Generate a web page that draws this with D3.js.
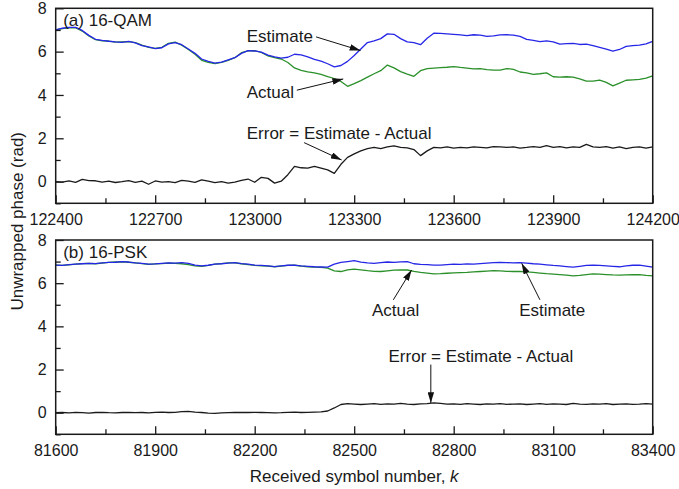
<!DOCTYPE html>
<html>
<head>
<meta charset="utf-8">
<script src="https://cdn.jsdelivr.net/npm/d3@7"></script>
<style>
  html, body { margin: 0; padding: 0; background: #fff; }
  svg { display: block; }
  text { font-family: "Liberation Sans", Arial, Helvetica, sans-serif; fill: #1a1a1a; }
</style>
</head>
<body>
<div id="chart"></div>
<script>
// ---- data -------------------------------------------------------------
// (a) 16-QAM, symbols 122400..124200 sampled every 20 symbols
const qamK = d3.range(122400, 124201, 20);
const qamEstimate = [
  7.00,7.08,7.12,7.12,6.98,6.75,6.57,6.52,6.48,6.45,6.43,6.47,6.40,6.28,6.22,6.14,6.18,6.36,6.42,6.32,
  6.12,5.92,5.66,5.55,5.47,5.52,5.62,5.72,5.92,6.05,6.03,5.98,5.84,5.76,5.70,5.74,5.88,5.85,5.76,5.64,
  5.56,5.44,5.30,5.36,5.55,5.82,6.12,6.42,6.50,6.60,6.82,6.80,6.60,6.45,6.42,6.32,6.62,6.85,6.84,6.82,
  6.80,6.77,6.74,6.78,6.76,6.70,6.73,6.77,6.78,6.76,6.70,6.57,6.52,6.46,6.50,6.45,6.35,6.37,6.38,6.33,
  6.35,6.28,6.20,6.12,6.02,6.10,6.24,6.28,6.30,6.36,6.47
];
const qamActual = [
  7.00,7.06,7.10,7.11,6.95,6.72,6.55,6.50,6.49,6.44,6.45,6.46,6.42,6.30,6.20,6.15,6.20,6.38,6.44,6.30,
  6.10,5.88,5.60,5.50,5.45,5.50,5.60,5.72,5.95,6.04,6.05,5.96,5.80,5.72,5.66,5.50,5.25,5.14,5.07,5.02,
  4.95,4.85,4.76,4.62,4.40,4.52,4.66,4.82,4.98,5.12,5.38,5.25,5.08,4.96,4.86,5.12,5.22,5.24,5.26,5.28,
  5.31,5.27,5.24,5.20,5.22,5.17,5.15,5.15,5.22,5.18,5.06,5.02,4.95,4.98,5.02,4.84,4.82,4.84,4.82,4.74,
  4.64,4.64,4.69,4.58,4.42,4.55,4.68,4.70,4.72,4.78,4.88
];
const qamError = [
  0.00,-0.02,0.03,-0.03,0.10,0.05,0.04,-0.02,0.02,-0.04,0.00,0.05,-0.03,0.02,-0.12,0.03,-0.02,0.00,-0.05,0.06,
  0.02,-0.03,0.08,0.02,-0.05,0.00,-0.07,-0.02,0.06,0.12,-0.03,0.20,0.15,-0.07,0.02,0.32,0.70,0.64,0.62,0.70,
  0.62,0.54,0.38,0.80,1.12,1.28,1.42,1.52,1.58,1.52,1.60,1.65,1.58,1.56,1.48,1.20,1.42,1.58,1.56,1.60,
  1.55,1.58,1.56,1.60,1.58,1.56,1.62,1.60,1.58,1.60,1.55,1.58,1.62,1.58,1.66,1.58,1.62,1.56,1.60,1.58,
  1.72,1.60,1.58,1.62,1.55,1.60,1.52,1.58,1.60,1.55,1.60
];
const qamTicks = [122400, 122700, 123000, 123300, 123600, 123900, 124200];

// (b) 16-PSK, symbols 81600..83400 sampled every 20 symbols
const pskK = d3.range(81600, 83401, 20);
const pskEstimate = [
  6.84,6.82,6.86,6.88,6.90,6.92,6.91,6.94,6.96,6.97,7.00,6.98,6.94,6.92,6.88,6.89,6.92,6.94,6.93,6.95,
  6.92,6.84,6.80,6.83,6.88,6.90,6.93,6.95,6.91,6.88,6.84,6.82,6.80,6.77,6.80,6.83,6.84,6.80,6.78,6.76,
  6.75,6.74,6.88,6.96,7.00,7.04,6.98,6.94,6.92,6.95,6.98,6.96,6.99,7.00,6.90,6.87,6.86,6.84,6.84,6.86,
  6.88,6.87,6.89,6.88,6.91,6.93,6.95,6.96,6.95,6.94,6.95,6.93,6.90,6.88,6.85,6.82,6.80,6.77,6.74,6.78,
  6.82,6.84,6.82,6.80,6.78,6.76,6.80,6.83,6.84,6.79,6.74
];
const pskActual = [
  6.84,6.82,6.85,6.88,6.91,6.92,6.90,6.93,6.96,6.98,6.99,6.97,6.94,6.91,6.87,6.89,6.91,6.93,6.92,6.90,
  6.86,6.80,6.78,6.82,6.88,6.91,6.94,6.94,6.90,6.86,6.82,6.80,6.79,6.76,6.79,6.82,6.83,6.79,6.76,6.74,
  6.73,6.70,6.57,6.54,6.62,6.65,6.62,6.58,6.55,6.54,6.57,6.60,6.62,6.61,6.55,6.50,6.47,6.43,6.44,6.46,
  6.48,6.49,6.50,6.52,6.54,6.56,6.58,6.57,6.55,6.54,6.54,6.52,6.50,6.47,6.44,6.42,6.40,6.37,6.34,6.36,
  6.40,6.43,6.42,6.40,6.38,6.37,6.38,6.39,6.40,6.36,6.34
];
const pskError = [
  0.00,0.01,-0.01,0.02,0.00,-0.02,0.01,0.02,0.00,-0.01,0.01,0.02,0.00,0.01,-0.01,0.02,0.03,0.01,0.02,0.05,
  0.06,0.03,0.01,-0.02,-0.03,-0.01,0.00,0.01,0.02,0.01,0.02,0.01,0.00,-0.01,0.00,0.02,0.03,0.01,0.02,0.03,
  0.04,0.08,0.22,0.38,0.42,0.40,0.38,0.40,0.42,0.39,0.41,0.40,0.43,0.40,0.38,0.41,0.42,0.46,0.43,0.40,
  0.41,0.39,0.42,0.40,0.38,0.41,0.40,0.42,0.39,0.40,0.41,0.38,0.40,0.42,0.39,0.41,0.40,0.38,0.43,0.40,
  0.39,0.41,0.40,0.42,0.38,0.40,0.41,0.39,0.40,0.42,0.40
];
const pskTicks = [81600, 81900, 82200, 82500, 82800, 83100, 83400];

const phaseTicks = [0, 2, 4, 6, 8];
const phaseMinor = [-1, 1, 3, 5, 7];

// ---- layout -----------------------------------------------------------
const W = 679, H = 489;
const left = 55.7, right = 652.7;
const FONT_TICK = 16, FONT_LABEL = 17;
const COLORS = { estimate: "#2626e6", actual: "#2a902a", error: "#1a1a1a" };

const svg = d3.select("#chart").append("svg")
  .attr("width", W).attr("height", H).attr("viewBox", `0 0 ${W} ${H}`);

svg.append("defs").append("marker")
  .attr("id", "arrowhead")
  .attr("viewBox", "0 0 10 6")
  .attr("refX", 10).attr("refY", 3)
  .attr("markerWidth", 11).attr("markerHeight", 6.5)
  .attr("markerUnits", "userSpaceOnUse")
  .attr("orient", "auto")
  .append("path").attr("d", "M0,0L10,3L0,6Z").attr("fill", "#111");

const panels = [
  {
    title: "(a) 16-QAM", top: 8.3, bottom: 203.3,
    k: qamK, estimate: qamEstimate, actual: qamActual, error: qamError,
    ticks: qamTicks,
    notes: [
      { text: "Estimate", at: [122976, 6.72], anchor: "start", from: [123185, 6.68], to: [123319, 6.05] },
      { text: "Actual", at: [122976, 4.15], anchor: "start", from: [123127, 4.22], to: [123267, 4.74] },
      { text: "Error = Estimate - Actual", at: [122976, 2.25], anchor: "start", from: [123149, 1.80], to: [123262, 1.00] }
    ]
  },
  {
    title: "(b) 16-PSK", top: 240, bottom: 434.3,
    k: pskK, estimate: pskEstimate, actual: pskActual, error: pskError,
    ticks: pskTicks,
    notes: [
      { text: "Actual", at: [82625, 4.77], anchor: "middle", from: [82618, 5.23], to: [82673, 6.61] },
      { text: "Estimate", at: [83097, 4.77], anchor: "middle", from: [83060, 5.23], to: [83005, 6.92] },
      { text: "Error = Estimate - Actual", at: [82882, 2.61], anchor: "middle", from: [82731, 2.23], to: [82731, 0.45] }
    ]
  }
];

panels.forEach(p => {
  const x = d3.scaleLinear().domain([p.ticks[0], p.ticks[p.ticks.length - 1]]).range([left, right]);
  const y = d3.scaleLinear().domain([-1, 8]).range([p.bottom, p.top]);
  const g = svg.append("g");

  // curves: actual first, estimate on top, error
  const line = vals => d3.line().x((d, i) => x(p.k[i])).y(d => y(d))(vals);
  [["actual", p.actual], ["estimate", p.estimate], ["error", p.error]].forEach(([key, vals]) => {
    g.append("path").attr("d", line(vals))
      .attr("fill", "none").attr("stroke", COLORS[key])
      .attr("stroke-width", 1.3).attr("stroke-linejoin", "round");
  });

  // minor ticks (inward)
  const minorX = d3.range(0, p.ticks.length - 1).map(i => (p.ticks[i] + p.ticks[i + 1]) / 2);
  g.append("g").attr("transform", `translate(0,${p.bottom})`)
    .call(d3.axisBottom(x).tickValues(minorX).tickSizeInner(-5).tickSizeOuter(0).tickFormat(""))
    .call(a => a.select(".domain").remove());
  g.append("g").attr("transform", `translate(${left},0)`)
    .call(d3.axisLeft(y).tickValues(phaseMinor).tickSizeInner(-5).tickSizeOuter(0).tickFormat(""))
    .call(a => a.select(".domain").remove());

  // major ticks and labels
  const xa = g.append("g").attr("transform", `translate(0,${p.bottom})`)
    .call(d3.axisBottom(x).tickValues(p.ticks).tickSizeInner(-8).tickSizeOuter(0).tickPadding(10).tickFormat(d3.format("d")));
  const ya = g.append("g").attr("transform", `translate(${left},0)`)
    .call(d3.axisLeft(y).tickValues(phaseTicks).tickSizeInner(-8).tickSizeOuter(0).tickPadding(9).tickFormat(d3.format("d")));
  [xa, ya].forEach(a => {
    a.select(".domain").remove();
    a.selectAll("text").attr("font-size", FONT_TICK).attr("font-family", null).attr("fill", "#1a1a1a");
  });
  g.selectAll(".tick line").attr("stroke", "#1a1a1a").attr("stroke-width", 1.3);

  // frame
  g.append("rect")
    .attr("x", left).attr("y", p.top)
    .attr("width", right - left).attr("height", p.bottom - p.top)
    .attr("fill", "none").attr("stroke", "#1a1a1a").attr("stroke-width", 1.5);

  // panel title
  g.append("text").attr("x", left + 7.5).attr("y", p.top + 12)
    .attr("dy", "0.35em").attr("font-size", FONT_LABEL).text(p.title);

  // annotations
  p.notes.forEach(n => {
    g.append("line")
      .attr("x1", x(n.from[0])).attr("y1", y(n.from[1]))
      .attr("x2", x(n.to[0])).attr("y2", y(n.to[1]))
      .attr("stroke", "#111").attr("stroke-width", 1)
      .attr("marker-end", "url(#arrowhead)");
    g.append("text").attr("x", x(n.at[0])).attr("y", y(n.at[1]))
      .attr("dy", "0.35em").attr("text-anchor", n.anchor)
      .attr("font-size", FONT_LABEL).text(n.text);
  });
});

// axis titles
svg.append("text")
  .attr("x", (left + right) / 2).attr("y", 476).attr("dy", "0.35em")
  .attr("text-anchor", "middle").attr("font-size", FONT_LABEL)
  .call(t => {
    t.append("tspan").text("Received symbol number, ");
    t.append("tspan").attr("font-style", "italic").text("k");
  });

svg.append("text")
  .attr("transform", `translate(17,${(8.3 + 434.3) / 2}) rotate(-90)`)
  .attr("dy", "0.35em").attr("text-anchor", "middle").attr("font-size", FONT_LABEL)
  .text("Unwrapped phase (rad)");
</script>
</body>
</html>
